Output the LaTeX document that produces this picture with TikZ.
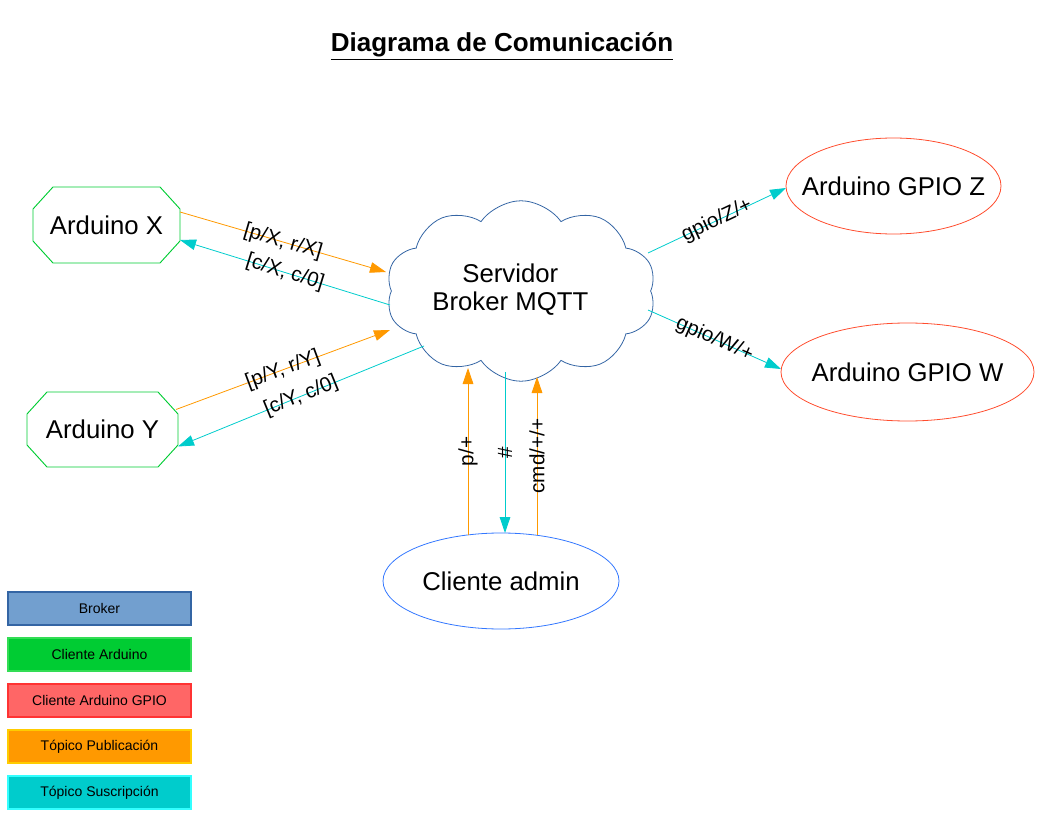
\documentclass[tikz,border=0pt]{standalone}
\usepackage{fontspec}
\setmainfont{Liberation Sans}
\usetikzlibrary{shapes.geometric,shapes.symbols,arrows.meta,calc}
\definecolor{brokerfill}{HTML}{729FCF}
\definecolor{brokerline}{HTML}{3465A4}
\definecolor{ardfill}{HTML}{00CC33}
\definecolor{ardline}{HTML}{33DD55}
\definecolor{gpiofill}{HTML}{FF6666}
\definecolor{gpioline}{HTML}{FF3333}
\definecolor{pubfill}{HTML}{FF9900}
\definecolor{publine}{HTML}{FFCC00}
\definecolor{subfill}{HTML}{00CCCC}
\definecolor{subline}{HTML}{33FFFF}
\definecolor{ellred}{HTML}{FF4D2E}
\definecolor{adminblue}{HTML}{3377FF}
\begin{document}
\begin{tikzpicture}[x=0.75pt,y=-0.75pt,
  bigtxt/.style={font=\fontsize{19.3}{22}\selectfont},
  octo/.style={bigtxt,inner sep=0pt,outer sep=0pt,draw=none},
  octline/.style={draw=ardfill,line width=0.7pt},
  gpioell/.style={ellipse,draw=ellred,line width=0.6pt,inner sep=0pt,outer sep=0pt,bigtxt},
  pubarrow/.style={draw=pubfill,line width=0.6pt,-{Triangle[length=12pt,width=8pt]},color=pubfill},
  subarrow/.style={draw=subfill,line width=0.6pt,-{Triangle[length=12pt,width=8pt]},color=subfill},
  elabel/.style={font=\fontsize{15.5}{17}\selectfont,text=black,inner sep=1pt},
  legend/.style={rectangle,minimum width=137.25pt,minimum height=24.75pt,inner sep=0pt,line width=0.8pt,font=\fontsize{10.5}{12}\selectfont}
]
\useasboundingbox (0,0) rectangle (1056,816);

% title
\node[font=\fontsize{19.5}{22}\selectfont\bfseries] (title) at (502,46) {\underline{Diagrama de Comunicación}};

% Arduino clients (octagons)
\node[octo,minimum width=110.25pt,minimum height=57pt] (ax) at (106.5,225) {Arduino X};
\node[octo,minimum width=113.25pt,minimum height=56.25pt] (ay) at (102.5,429.5) {Arduino Y};
\foreach \n in {ax,ay}{
  \draw[octline] ($(\n.north west)+(20,0)$) -- ($(\n.north east)+(-20,0)$)
    -- ($(\n.north east)+(0,22)$) -- ($(\n.south east)+(0,-22)$)
    -- ($(\n.south east)+(-20,0)$) -- ($(\n.south west)+(20,0)$)
    -- ($(\n.south west)+(0,-22)$) -- ($(\n.north west)+(0,22)$) -- cycle;
}

% broker cloud
\node[cloud,cloud puffs=10,cloud puff arc=110,aspect=1.7,draw=brokerline,line width=0.6pt,
      minimum width=202.5pt,minimum height=108pt,inner sep=0pt,outer sep=0pt,
      bigtxt,align=center] (br) at (521,291)
      {\begin{tabular}{@{}c@{}}Servidor\\[-1pt]Broker MQTT\end{tabular}\kern 16pt};

% GPIO clients
\node[gpioell,minimum width=161.25pt,minimum height=72pt] (gz) at (893.5,186) {\makebox[0pt]{Arduino GPIO Z}};
\node[gpioell,minimum width=189.75pt,minimum height=73.5pt] (gw) at (907.5,372) {\makebox[0pt]{Arduino GPIO W}};

% admin client
\node[ellipse,draw=adminblue,line width=0.6pt,inner sep=0pt,outer sep=0pt,bigtxt,
      minimum width=177pt,minimum height=72pt] (ca) at (501,581) {\makebox[0pt]{Cliente admin}};

% connectors
\draw[pubarrow] ($(ax.east)+(0,-13)$) -- node[elabel,sloped,midway]{[p/X, r/X]} ($(br.center)+(-135,-19)$);
\draw[subarrow] ($(br.center)+(-131,14)$) -- node[elabel,sloped,midway]{[c/X, c/0]} ($(ax.east)+(0,15)$);
\draw[pubarrow] ($(ay.east)+(-2,-20)$) -- node[elabel,sloped,midway]{[p/Y, r/Y]} ($(br.center)+(-131,39)$);
\draw[subarrow] ($(br.center)+(-97,55)$) -- node[elabel,sloped,midway]{[c/Y, c/0]} ($(ay.east)+(0,17)$);
\draw[subarrow] ($(br.center)+(127,-38)$) -- node[elabel,sloped,midway]{gpio/Z/+} ($(gz.west)+(0,2)$);
\draw[subarrow] ($(br.center)+(127,19)$) -- node[elabel,sloped,midway]{gpio/W/+} ($(gw.west)+(0,-3)$);
\draw[pubarrow] ($(ca.north)+(-33,2)$) -- node[elabel,rotate=90,midway]{p/+} ($(br.center)+(-53,77)$);
\draw[subarrow] ($(br.center)+(-16,81)$) -- node[elabel,rotate=90,midway]{\#} ($(ca.north)+(4,0)$);
\draw[pubarrow] ($(ca.north)+(36,2)$) -- node[elabel,rotate=90,midway]{cmd/+/+} ($(br.center)+(16,86)$);

% legend
\node[legend,fill=brokerfill,draw=brokerline] (lg1) at (99.5,608.5) {Broker};
\node[legend,fill=ardfill,draw=ardline] (lg2) at (99.5,654.5) {Cliente Arduino};
\node[legend,fill=gpiofill,draw=gpioline] (lg3) at (99.5,700.5) {Cliente Arduino GPIO};
\node[legend,fill=pubfill,draw=publine] (lg4) at (99.5,746.5) {Tópico Publicación};
\node[legend,fill=subfill,draw=subline] (lg5) at (99.5,792.5) {Tópico Suscripción};
\end{tikzpicture}
\end{document}
